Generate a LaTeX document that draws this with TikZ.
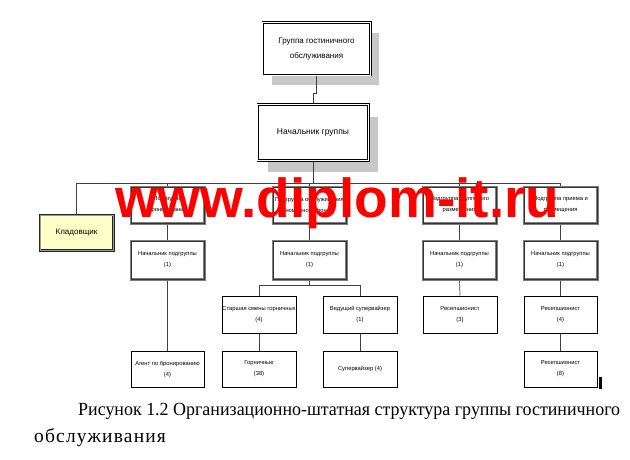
\documentclass[tikz,border=0pt]{standalone}
\usepackage{fontspec}
\usepackage{graphicx}
\setmainfont{Liberation Serif}
\setsansfont{Liberation Sans}
\newfontfamily\wmfont{Liberation Sans}
\usetikzlibrary{calc}
\pgfdeclarelayer{bg}
\pgfdeclarelayer{fg}
\pgfsetlayers{bg,main,fg}
\definecolor{shadowc}{RGB}{200,200,200}
\definecolor{kladfill}{RGB}{255,255,200}
\definecolor{framec}{RGB}{125,125,125}
\begin{document}
\begin{tikzpicture}[x=1pt,y=-1pt,
  conn/.style={draw=black!75, line width=0.7pt},
  bigtxt/.style={font=\sffamily\fontsize{8}{15}\selectfont, align=center, inner sep=0pt},
  smalltxt/.style={font=\sffamily\fontsize{5.8}{11}\selectfont, align=center, inner sep=0pt},
  topbox/.style={bigtxt, fill=white},
  grpbox/.style={smalltxt, fill=white, minimum width=73pt, minimum height=36pt},
  kladbox/.style={bigtxt, fill=kladfill, minimum width=73pt, minimum height=35pt},
  plainbox/.style={smalltxt, draw=black, line width=0.6pt, fill=white, minimum width=74pt, minimum height=36pt},
  outerframe/.style={line width=2.6pt},
  innerframe/.style={line width=0.7pt}
]
\useasboundingbox (0,0) rectangle (630,460);
\begin{pgfonlayer}{bg}
\fill[white] (0,0) rectangle (630,460);
\end{pgfonlayer}

% top boxes
\node[topbox, minimum width=107pt, minimum height=52pt] (top) at (316.5,49) {Группа гостиничного\\обслуживания};
\node[topbox, font=\sffamily\fontsize{8.5}{15}\selectfont, minimum width=110pt, minimum height=55pt] (nach) at (313,132.5) {Начальник группы};

% level 2
\node[kladbox] (klad) at (76.5,232.5) {Кладовщик};
\node[grpbox] (b2a) at (167.5,205) {Подгруппа\\бронирования};
\node[grpbox] (b2b) at (309.5,205) {Подгруппа обслуживания\\номерного фонда};
\node[grpbox] (b2c) at (459.5,205) {Подгруппа группового\\размещения};
\node[grpbox] (b2d) at (560.5,205) {Подгруппа приема и\\размещения};

% level 3
\node[grpbox, minimum height=38pt] (b3a) at (167.5,260) {Начальник подгруппы\\(1)};
\node[grpbox, minimum height=38pt] (b3b) at (309.5,260) {Начальник подгруппы\\(1)};
\node[grpbox, minimum height=38pt] (b3c) at (459.5,260) {Начальник подгруппы\\(1)};
\node[grpbox, minimum height=38pt] (b3d) at (560.5,260) {Начальник подгруппы\\(1)};

% level 4
\node[plainbox, minimum height=37pt] (star) at (259,314.5) {Старшая смены горничных\\(4)};
\node[plainbox, minimum height=37pt] (ved) at (360,314.5) {Ведущий супервайзер\\(1)};
\node[plainbox, minimum height=37pt] (resA) at (460,314.5) {Ресепшионист\\(3)};
\node[plainbox, minimum height=37pt, minimum width=73pt] (resB) at (560.5,314.5) {Ресепшионист\\(4)};

% level 5
\node[plainbox, minimum width=73pt] (agent) at (167.5,369) {Агент по бронированию\\(4)};
\node[plainbox] (gorn) at (259,369) {Горничные\\(38)};
\node[plainbox] (superv) at (360,369) {Супервайзер (4)};
\node[plainbox, minimum width=73pt] (resC) at (560.5,369) {Ресепшионист\\(8)};

% frames
\foreach \n in {top,nach}{
  \draw[outerframe, draw=black] (\n.north west) rectangle (\n.south east);
  \draw[innerframe, draw=white] (\n.north west) rectangle (\n.south east);
}
\foreach \n in {b2a,b2b,b2c,b2d,b3a,b3b,b3c,b3d}{
  \draw[outerframe, draw=framec] (\n.north west) rectangle (\n.south east);
  \draw[line width=0.4pt, draw=black!80] (\n.north west) rectangle (\n.south east);
}
\draw[outerframe, draw=black!85] (klad.north west) rectangle (klad.south east);
\draw[line width=0.5pt, draw=black!40] (klad.north west) rectangle (klad.south east);

\coordinate (bus) at (0,183);
\coordinate (jn) at (0,285);

\begin{pgfonlayer}{bg}
\fill[shadowc] ([shift={(9,10)}]top.north west) rectangle ([shift={(9,10)}]top.south east);
\fill[shadowc] ([shift={(10,12)}]nach.north west) rectangle ([shift={(10,12)}]nach.south east);
\draw[conn] (top.south) -- ++(0,18) -| (nach.north);
\draw[conn] (nach.south) -- (nach.south |- bus);
\draw[conn] (klad.north) -- (klad.north |- bus) -- (b2d.north |- bus) -- (b2d.north);
\draw[conn] (b2a.north) -- (b2a.north |- bus);
\draw[conn] (b2b.north) -- (b2b.north |- bus);
\draw[conn] (b2c.north) -- (b2c.north |- bus);
\draw[conn] (b2a.south) -- (b3a.north);
\draw[conn] (b2b.south) -- (b3b.north);
\draw[conn] (b2c.south) -- (b3c.north);
\draw[conn] (b2d.south) -- (b3d.north);
\draw[conn] (b3a.south) -- (agent.north);
\draw[conn] (b3b.south) -- (b3b.south |- jn);
\draw[conn] (star.north) -- (star.north |- jn) -- (ved.north |- jn) -- (ved.north);
\draw[conn] (b3c.south) -- (resA.north);
\draw[conn] (b3d.south) -- (resB.north);
\draw[conn] (star.south) -- (gorn.north);
\draw[conn] (ved.south) -- (superv.north);
\draw[conn] (resB.south) -- (resC.north);
\end{pgfonlayer}

% cursor bar
\fill[black] (599,377) rectangle (602,389);

% caption
\node[anchor=west, inner sep=0pt, font=\fontsize{18.5}{22}\selectfont] (cap1) at (78,411) {\resizebox{542pt}{\height}{Рисунок 1.2 Организационно-штатная структура группы гостиничного}};
\node[anchor=west, inner sep=0pt, font=\fontsize{19.5}{22}\selectfont] (cap2) at (34,438) {\addfontfeature{LetterSpace=6}обслуживания};

% watermark
\begin{pgfonlayer}{fg}
\node[anchor=base west, inner sep=0pt, text=red, font=\wmfont\bfseries\fontsize{55}{60}\selectfont] (wm) at (115,217) {www.diplom-it.ru};
\end{pgfonlayer}
\end{tikzpicture}
\end{document}
